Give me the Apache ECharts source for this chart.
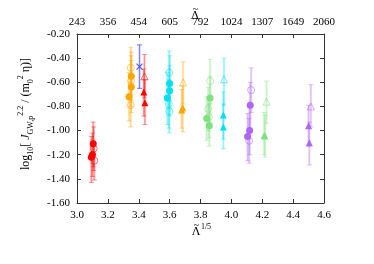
<!DOCTYPE html>
<html><head><meta charset="utf-8">
<script src="https://cdn.jsdelivr.net/npm/echarts/dist/echarts.min.js"></script>
<style>html,body{margin:0;padding:0;background:#fff}#c{width:374px;height:264px}</style>
</head><body><div id="c"></div>
<script>
// tick labels
const bottomTicks = [3.0, 3.2, 3.4, 3.6, 3.8, 4.0, 4.2, 4.4, 4.6];
const topLabels = ['243', '356', '454', '605', '792', '1024', '1307', '1649', '2060'];
const yTicks = [-1.6, -1.4, -1.2, -1.0, -0.8, -0.6, -0.4, -0.2];

// data points: [x, y, errLow, errHigh]
const redCircleFilled = [[3.105, -1.11, -1.30, -0.93], [3.100, -1.20, -1.38, -1.02], [3.093, -1.22, -1.43, -1.05]];
const redCircleOpen = [[3.108, -1.15, -1.33, -0.97], [3.112, -1.25, -1.41, -1.10]];
const orangeCircleFilled = [[3.352, -0.55, -0.75, -0.35], [3.352, -0.64, -0.85, -0.42], [3.337, -0.72, -0.92, -0.52]];
const orangeCircleOpen = [[3.348, -0.48, -0.70, -0.31], [3.350, -0.59, -0.80, -0.38], [3.348, -0.79, -0.97, -0.60]];
const blueCross = [[3.405, -0.47, -0.65, -0.29]];
const redTriOpen = [[3.437, -0.55, -0.73, -0.37]];
const redTriFilled = [[3.433, -0.68, -0.88, -0.49], [3.440, -0.77, -0.95, -0.58]];
const cyanCircleFilled = [[3.600, -0.61, -0.82, -0.38], [3.600, -0.67, -0.88, -0.46], [3.585, -0.73, -0.95, -0.52]];
const cyanCircleOpen = [[3.597, -0.52, -0.75, -0.34], [3.595, -0.78, -0.98, -0.58], [3.598, -0.84, -1.02, -0.66]];
const orangeTriOpen = [[3.687, -0.60, -0.78, -0.43]];
const orangeTriFilled = [[3.685, -0.81, -1.01, -0.63], [3.678, -0.83, -0.98, -0.66]];
const greenCircleFilled = [[3.862, -0.73, -0.93, -0.55], [3.840, -0.90, -1.08, -0.72], [3.857, -0.96, -1.13, -0.78]];
const greenCircleOpen = [[3.862, -0.59, -0.78, -0.41], [3.850, -0.82, -1.00, -0.64], [3.855, -0.89, -1.06, -0.72]];
const cyanTriOpen = [[3.952, -0.575, -0.79, -0.40]];
const cyanTriFilled = [[3.948, -0.87, -1.07, -0.68], [3.948, -0.97, -1.15, -0.78]];
const purpleCircleFilled = [[4.122, -0.79, -0.98, -0.60], [4.118, -1.00, -1.20, -0.80], [4.105, -1.05, -1.25, -0.86]];
const purpleCircleOpen = [[4.128, -0.665, -0.85, -0.48], [4.115, -1.085, -1.27, -0.90]];
const greenTriOpen = [[4.228, -0.76, -0.94, -0.59]];
const greenTriFilled = [[4.218, -1.045, -1.22, -0.87], [4.212, -1.04, -1.20, -0.85]];
const purpleTriOpen = [[4.515, -0.80, -0.97, -0.62]];
const purpleTriFilled = [[4.500, -0.96, -1.13, -0.79], [4.505, -1.10, -1.285, -0.93]];

const C = {red:'#ff0000', orange:'#ffa500', blue:'#3d3dff', cyan:'#00e0f0', green:'#7fe07f', purple:'#b064f5'};
const TRI = 'triangle';
const CROSS = 'path://M0,0L10,10M10,0L0,10';

const groups = [
  {d: redCircleFilled, c: C.red, s: 'circle', open: false},
  {d: redCircleOpen, c: C.red, s: 'circle', open: true},
  {d: orangeCircleFilled, c: C.orange, s: 'circle', open: false},
  {d: orangeCircleOpen, c: C.orange, s: 'circle', open: true},
  {d: blueCross, c: C.blue, s: CROSS, open: true, cross: true},
  {d: redTriOpen, c: C.red, s: TRI, open: true},
  {d: redTriFilled, c: C.red, s: TRI, open: false},
  {d: cyanCircleFilled, c: C.cyan, s: 'circle', open: false},
  {d: cyanCircleOpen, c: C.cyan, s: 'circle', open: true},
  {d: orangeTriOpen, c: C.orange, s: TRI, open: true},
  {d: orangeTriFilled, c: C.orange, s: TRI, open: false},
  {d: greenCircleFilled, c: C.green, s: 'circle', open: false},
  {d: greenCircleOpen, c: C.green, s: 'circle', open: true},
  {d: cyanTriOpen, c: C.cyan, s: TRI, open: true},
  {d: cyanTriFilled, c: C.cyan, s: TRI, open: false},
  {d: purpleCircleFilled, c: C.purple, s: 'circle', open: false},
  {d: purpleCircleOpen, c: C.purple, s: 'circle', open: true},
  {d: greenTriOpen, c: C.green, s: TRI, open: true},
  {d: greenTriFilled, c: C.green, s: TRI, open: false},
  {d: purpleTriOpen, c: C.purple, s: TRI, open: true},
  {d: purpleTriFilled, c: C.purple, s: TRI, open: false}
];

const series = [];
groups.forEach(g => {
  const k = g.cross ? 1.8 : 1;
  series.push({
    type: 'custom', z: 1, silent: true,
    data: g.d.map(p => [p[0], p[2], p[3]]),
    encode: {x: 0, y: [1, 2]},
    renderItem: (params, api) => {
      const x = api.value(0);
      const a = api.coord([x, api.value(1)]);
      const b = api.coord([x, api.value(2)]);
      const w = 2.5;
      return {type: 'group', children: [
        {type: 'line', shape: {x1: a[0], y1: a[1], x2: b[0], y2: b[1]}, style: {stroke: g.c, lineWidth: 2.5, opacity: 0.2}},
        {type: 'line', shape: {x1: a[0], y1: a[1], x2: b[0], y2: b[1]}, style: {stroke: g.c, lineWidth: 0.8, opacity: 0.4 * k}},
        {type: 'line', shape: {x1: a[0] - w, y1: a[1], x2: a[0] + w, y2: a[1]}, style: {stroke: g.c, lineWidth: 0.8, opacity: 0.5 * k}},
        {type: 'line', shape: {x1: b[0] - w, y1: b[1], x2: b[0] + w, y2: b[1]}, style: {stroke: g.c, lineWidth: 0.8, opacity: 0.5 * k}}
      ]};
    }
  });
});
groups.forEach(g => {
  series.push({
    type: 'scatter', z: 3, silent: true,
    symbol: g.s,
    symbolSize: g.cross ? 6 : 7,
    data: g.d.map(p => [p[0], p[1]]),
    itemStyle: g.open
      ? {color: 'rgba(0,0,0,0)', borderColor: g.c, borderWidth: g.cross ? 1.2 : 1, opacity: g.cross ? 0.85 : 0.55}
      : {color: g.c, opacity: 1}
  });
});

const axisCol = '#333';
const serif = "'Liberation Serif', 'DejaVu Serif', 'Times New Roman', serif";
const baseX = {
  type: 'value', min: 3.0, max: 4.6, interval: 0.2,
  axisLine: {show: true, onZero: false, lineStyle: {color: axisCol, width: 1}},
  axisTick: {show: true, inside: true, length: 4, lineStyle: {color: axisCol}},
  splitLine: {show: false}
};
const baseY = {
  type: 'value', min: -1.6, max: -0.2, interval: 0.2,
  axisLine: {show: true, onZero: false, lineStyle: {color: axisCol, width: 1}},
  axisTick: {show: true, inside: true, length: 4, lineStyle: {color: axisCol}},
  splitLine: {show: false}
};

const txt = (x, y, text, size, extra) => ({
  type: 'text', x: x, y: y, silent: true,
  style: Object.assign({text: text, fontFamily: serif, fontSize: size, fill: '#000', align: 'center', verticalAlign: 'middle'}, extra || {})
});

const option = {
  animation: false,
  backgroundColor: '#fff',
  grid: {left: 77, right: 50, top: 34, bottom: 61},
  xAxis: [
    Object.assign({}, baseX, {
      position: 'bottom',
      axisLabel: {color: '#000', fontFamily: serif, fontSize: 11, margin: 7, formatter: v => v.toFixed(1)}
    }),
    Object.assign({}, baseX, {
      position: 'top',
      axisLabel: {color: '#000', fontFamily: serif, fontSize: 11, margin: 6,
        formatter: v => topLabels[Math.round((v - 3.0) / 0.2)]}
    })
  ],
  yAxis: [
    Object.assign({}, baseY, {
      position: 'left',
      axisLabel: {color: '#000', fontFamily: serif, fontSize: 11, margin: 7, formatter: v => v.toFixed(2)}
    }),
    Object.assign({}, baseY, {position: 'right', axisLabel: {show: false}})
  ],
  graphic: [
    txt(195, 16, 'Λ', 12),
    txt(195.5, 9, '~', 10),
    txt(196, 232, 'Λ', 12),
    txt(196.5, 225, '~', 10),
    txt(206, 227, '1/5', 8),
    {
      type: 'text', x: 26, y: 114, rotation: Math.PI / 2, silent: true,
      style: {
        text: '{n|log}{sb|10}{n|[ }{i|J}{sb|GW,p}{sp|2.2}{n| / (m}{sb|0}{sp|2}{n| η)]}',
        align: 'center', verticalAlign: 'middle',
        rich: {
          n: {fontFamily: serif, fontSize: 12, fill: '#000', lineHeight: 18, verticalAlign: 'middle'},
          i: {fontFamily: serif, fontSize: 12, fontStyle: 'italic', fill: '#000', lineHeight: 18, verticalAlign: 'middle'},
          sb: {fontFamily: serif, fontSize: 8, fill: '#000', lineHeight: 18, verticalAlign: 'bottom'},
          sp: {fontFamily: serif, fontSize: 8, fill: '#000', lineHeight: 18, verticalAlign: 'top'}
        }
      }
    }
  ],
  series: series
};
const chart = echarts.init(document.getElementById('c'), null, {renderer: 'canvas'});
chart.setOption(option);
</script></body></html>
